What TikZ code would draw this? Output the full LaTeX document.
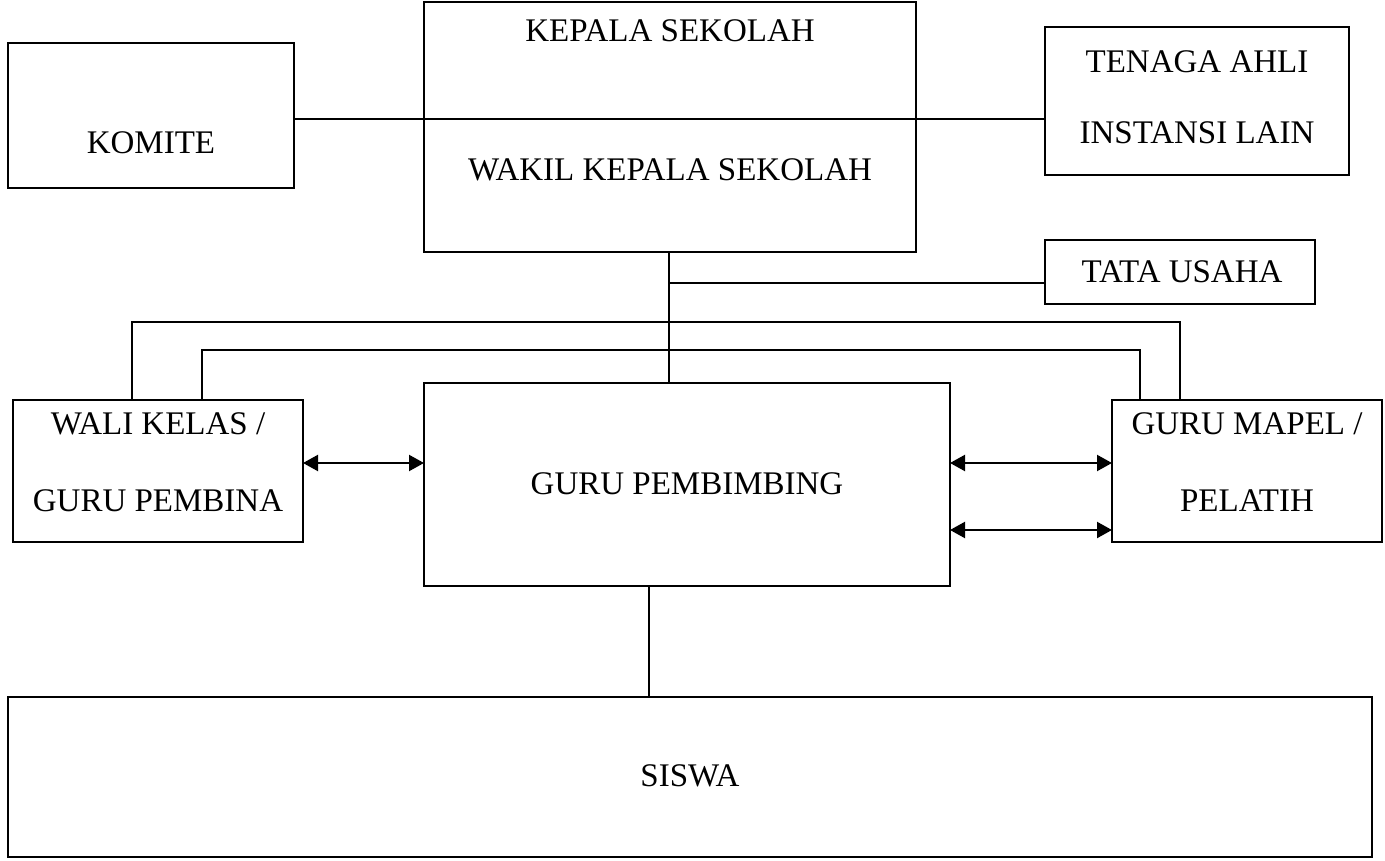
\documentclass[tikz,border=0pt]{standalone}
\usepackage{fontspec}
\setmainfont{Liberation Serif}
\usetikzlibrary{arrows.meta}
\begin{document}
\begin{tikzpicture}[x=1pt,y=-1pt,line width=1.6pt,
  box/.style={draw,line width=1.6pt,inner sep=0pt,outer sep=0pt},
  lbl/.style={inner sep=0pt,anchor=center,text height=22pt,text depth=0pt,font=\fontsize{33}{40}\selectfont},
  arr/.style={>={Triangle[length=15pt,width=16pt]},<->,line width=2.2pt}]
\useasboundingbox (0,0) rectangle (1385,861);
% boxes
\node[box,minimum width=286pt,minimum height=145pt] (komite) at (151,115.5) {};
\node[box,minimum width=492pt,minimum height=250pt] (kepala) at (670,127) {};
\node[box,minimum width=304pt,minimum height=148pt] (tenaga) at (1197,101) {};
\node[box,minimum width=270pt,minimum height=64pt] (tata) at (1180,272) {};
\node[box,minimum width=290pt,minimum height=142pt] (wali) at (158,471) {};
\node[box,minimum width=526pt,minimum height=203pt] (gp) at (687,484.5) {};
\node[box,minimum width=270pt,minimum height=142pt] (mapel) at (1247,471) {};
\node[box,minimum width=1364pt,minimum height=160pt] (siswa) at (690,777) {};
% texts
\node[lbl] (tkomite) at (151,143) {KOMITE};
\node[lbl] (tkepala) at (670,31) {KEPALA SEKOLAH};
\node[lbl] (twakil) at (670,170) {WAKIL KEPALA SEKOLAH};
\node[lbl] (ttenaga1) at (1197,62) {TENAGA AHLI};
\node[lbl] (ttenaga2) at (1197,133) {INSTANSI LAIN};
\node[lbl] (ttata) at (1182,272) {TATA USAHA};
\node[lbl] (twali1) at (158,423) {WALI KELAS /};
\node[lbl] (twali2) at (158,500) {GURU PEMBINA};
\node[lbl] (tgp) at (687,483) {GURU PEMBIMBING};
\node[lbl] (tmapel1) at (1247,423) {GURU MAPEL /};
\node[lbl] (tmapel2) at (1247,500) {PELATIH};
\node[lbl] (tsiswa) at (690,775) {SISWA};
% connectors
\coordinate (d) at (669,119);
\draw (komite.east |- d) -- (tenaga.west |- d);
\coordinate (v) at (669,0);
\draw (v |- kepala.south) -- (v |- gp.north);
\coordinate (t) at (669,283);
\draw (t) -- (tata.west |- t);
\coordinate (o1) at (132,322);
\coordinate (o2) at (1180,322);
\draw (o1 |- wali.north) -- (o1) -- (o2) -- (o2 |- mapel.north);
\coordinate (i1) at (202,350);
\coordinate (i2) at (1140,350);
\draw (i1 |- wali.north) -- (i1) -- (i2) -- (i2 |- mapel.north);
\coordinate (a1) at (0,463);
\coordinate (a2) at (0,530);
\draw[arr] (wali.east |- a1) -- (gp.west |- a1);
\draw[arr] (gp.east |- a1) -- (mapel.west |- a1);
\draw[arr] (gp.east |- a2) -- (mapel.west |- a2);
\coordinate (s) at (649,0);
\draw (s |- gp.south) -- (s |- siswa.north);
\end{tikzpicture}
\end{document}
